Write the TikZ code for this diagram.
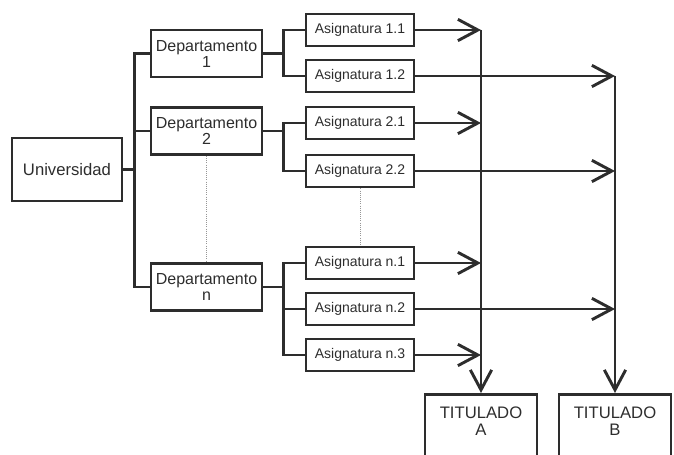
\documentclass[tikz,border=0pt]{standalone}
\usepackage{fontspec}
\setmainfont{Liberation Sans}
\usepackage{xcolor}
\definecolor{ink}{RGB}{45,45,45}
\definecolor{dots}{RGB}{150,150,150}
\usepackage{tikz}
\usetikzlibrary{arrows.meta}
\newcommand{\widthuni}{82.5pt}
\newcommand{\widthdept}{83.25pt}
\newcommand{\widthasig}{81pt}
\newcommand{\widthtit}{84pt}
\tikzset{
    common/.style={draw=ink, text=ink, line width=2.2pt, rectangle, inner sep=0pt, align=center},
    uni/.style={common, minimum width=\widthuni, minimum height=47.25pt, font=\fontsize{12.5}{12.5}\selectfont},
    dept/.style={common, minimum width=\widthdept, minimum height=35.25pt, font=\fontsize{12}{12}\selectfont},
    asig/.style={common, minimum width=\widthasig, minimum height=24pt, font=\fontsize{10.5}{10.5}\selectfont},
    titulo/.style={common, anchor=north, minimum width=\widthtit, inner ysep=9.5pt, text depth=60pt, font=\fontsize{12.5}{12.5}\selectfont},
    line/.style={draw=ink, line width=1.9pt},
    arr/.style={line, -{Straight Barb[length=15pt, width=16pt, line width=2.2pt]}},
    gap/.style={draw=dots, densely dotted, line width=0.6pt}
}

\begin{document}
\begin{tikzpicture}[x=0.75pt, y=-0.75pt]
            \useasboundingbox (0,0) rectangle (674,454);

            \path
                (67,169.5) node[uni] (uni) {Universidad}
                (206.5,53.5) node[dept] (dep1) {Departamento\\1}
                (206.5,131) node[dept] (dep2) {Departamento\\2}
                (206.5,287) node[dept] (depn) {Departamento\\n};

            \path
                (360,30) node[asig] (a11) {Asignatura 1.1}
                (360,76) node[asig] (a12) {Asignatura 1.2}
                (360,123) node[asig] (a21) {Asignatura 2.1}
                (360,171) node[asig] (a22) {Asignatura 2.2}
                (360,263) node[asig] (an1) {Asignatura n.1}
                (360,309) node[asig] (an2) {Asignatura n.2}
                (360,355) node[asig] (an3) {Asignatura n.3};

            \path
                (481,393) node[titulo] (titA) {TITULADO\\A}
                (615,393) node[titulo] (titB) {TITULADO\\B};

            % universidad -> departamentos
            \draw[line] (uni.east) -- ++(11,0) coordinate (bus);
            \draw[line] (dep1.west) -| (bus) |- (depn.west) (bus) |- (dep2.west);

            % departamentos -> asignaturas
            \draw[line] (dep1.east) -- ++(20,0) coordinate (s1);
            \draw[line] (a11.west) -| (s1) |- (a12.west);
            \draw[line] (dep2.east) -- ++(20,0) coordinate (s2);
            \draw[line] (a21.west) -| (s2) |- (a22.west);
            \draw[line] (depn.east) -- ++(20,0) coordinate (sn);
            \draw[line] (an1.west) -| (sn) |- (an3.west) (sn) |- (an2.west);

            \draw[gap] (dep2.south) -- (depn.north);
            \draw[gap] (a22.south) -- (an1.north);

            % asignaturas -> titulados
            \draw[arr] (a11.east -| titA.north) -- (titA.north);
            \draw[arr] (a12.east -| titB.north) -- (titB.north);
            \foreach \a in {a11, a21, an1, an3}
                \draw[arr] (\a.east) -- (\a.east -| titA.north);
            \foreach \b in {a12, a22, an2}
                \draw[arr] (\b.east) -- (\b.east -| titB.north);
          \end{tikzpicture}
\end{document}
